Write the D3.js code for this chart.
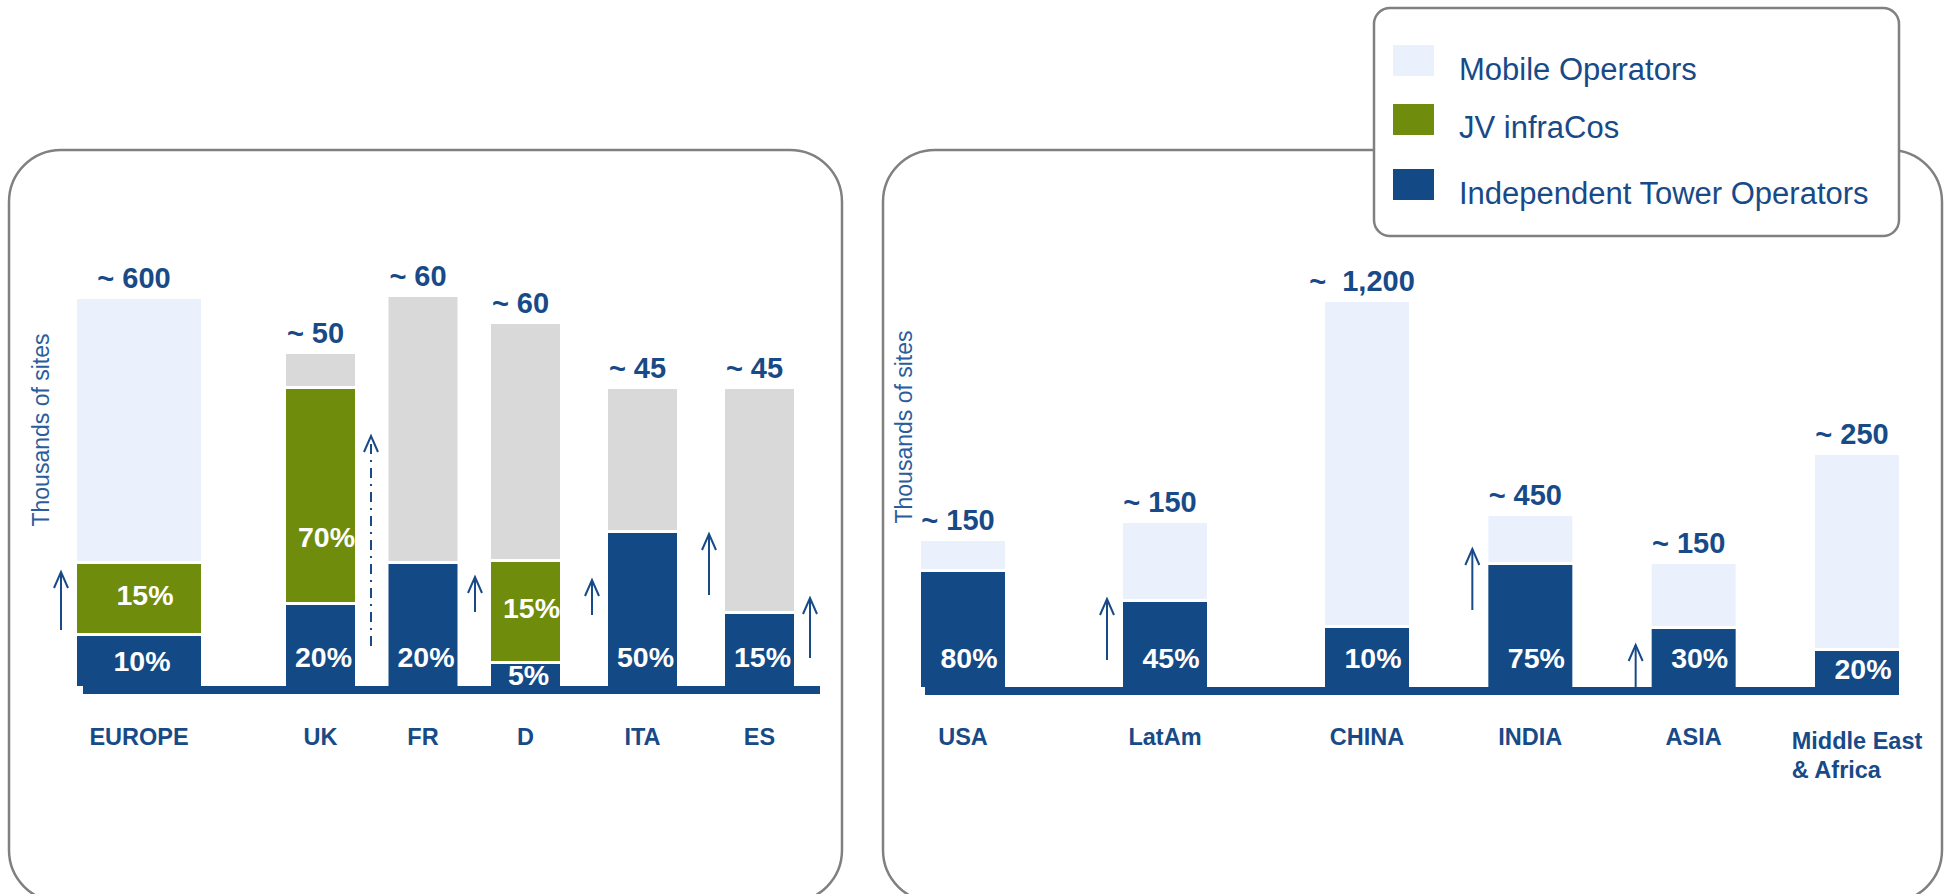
<!DOCTYPE html>
<html><head><meta charset="utf-8">
<script src="https://cdn.jsdelivr.net/npm/d3@7"></script>
<style>
html,body{margin:0;padding:0;background:#fff;}
svg{display:block;}
text{font-family:"Liberation Sans",Arial,sans-serif;white-space:pre;}
</style></head><body>
<svg id="chart" width="1949" height="894"></svg>
<script>
// ---------------- DATA (schematic heights, index 0-100) ----------------
const europeCategories = ["EUROPE", "UK", "FR", "D", "ITA", "ES"];
const europeTotalLabels = ["~ 600", "~ 50", "~ 60", "~ 60", "~ 45", "~ 45"];
const europeItoShareLabels = ["10%", "20%", "20%", "5%", "50%", "15%"];
const europeJvShareLabels = ["15%", "70%", "", "15%", "", ""];
const europeItoHeight = [12.5, 20.25, 30.5, 5.5, 38.25, 18];
const europeJvHeight = [18, 54, 0, 25.5, 0, 0];
const europeMnoHeight = [66.25, 8.75, 66.75, 59.5, 36, 56.25];
const europeIsRegion = [true, false, false, false, false, false];

const worldCategories = ["USA", "LatAm", "CHINA", "INDIA", "ASIA", "Middle East\n& Africa"];
const worldTotalLabels = ["~ 150", "~ 150", "~  1,200", "~ 450", "~ 150", "~ 250"];
const worldItoShareLabels = ["80%", "45%", "10%", "75%", "30%", "20%"];
const worldItoHeight = [28.75, 21.25, 14.75, 30.5, 14.5, 9];
const worldMnoHeight = [7.75, 19.75, 81.5, 12.25, 16.25, 49];

const europeArrowCats = ["EUROPE", "UK", "D", "ITA", "ES", "ES"];
const europeArrowSide = ["left", "right", "left", "left", "left", "right"];
const europeArrowFrom = [14, 10, 18.5, 17.75, 22.75, 7];
const europeArrowTo = [28.5, 62.5, 27.25, 26.5, 38, 22];
const europeArrowDashed = [false, true, false, false, false, false];

const worldArrowCats = ["LatAm", "INDIA", "ASIA"];
const worldArrowFrom = [6.75, 19.25, 0];
const worldArrowTo = [22, 34.5, 10.5];

const legendLabels = ["Mobile Operators", "JV infraCos", "Independent Tower Operators"];
const yAxisTitle = "Thousands of sites";

// ---------------- STYLE ----------------
const C = {ito: "#134a86", jv: "#6f8c0d", mob: "#eaf1fc", gray: "#d9d9d9",
           text: "#174a87", border: "#808080", axis: "#2b5c9c"};
const svg = d3.select("#chart");

// panels
svg.append("rect").attr("x", 9).attr("y", 150).attr("width", 833).attr("height", 752)
  .attr("rx", 52).attr("fill", "none").attr("stroke", C.border).attr("stroke-width", 2.5);
svg.append("rect").attr("x", 883).attr("y", 150).attr("width", 1059).attr("height", 752)
  .attr("rx", 52).attr("fill", "none").attr("stroke", C.border).attr("stroke-width", 2.5);

// legend
const lg = svg.append("g");
lg.append("rect").attr("x", 1374).attr("y", 8).attr("width", 525).attr("height", 228)
  .attr("rx", 16).attr("fill", "#fff").attr("stroke", C.border).attr("stroke-width", 2.5);
const legendColors = [C.mob, C.jv, C.ito];
const legendSwatchY = [45, 104, 169];
const legendTextY = [80, 138, 204];
legendLabels.forEach((t, i) => {
  lg.append("rect").attr("x", 1393).attr("y", legendSwatchY[i]).attr("width", 41).attr("height", 31)
    .attr("fill", legendColors[i]);
  lg.append("text").attr("x", 1459).attr("y", legendTextY[i])
    .attr("font-size", 31).attr("fill", C.text).text(t);
});

// ---------------- PANEL DRAWING ----------------
function drawPanel(o) {
  const g = svg.append("g");
  const y = o.y;
  const base = y(0);
  o.cats.forEach((cat, i) => {
    const x0 = o.x(i), bw = o.bw(i);
    const segs = [
      {h: o.ito[i], c: C.ito},
      {h: o.jv ? o.jv[i] : 0, c: C.jv},
      {h: o.mno[i], c: o.mnoColor(i)}
    ];
    let cum = 0;
    segs.forEach(s => {
      if (s.h <= 0) return;
      const top = y(cum + s.h);
      const bottom = y(cum) - (cum > 0 ? 3 : 0);
      g.append("rect").attr("x", x0).attr("y", top).attr("width", bw)
        .attr("height", bottom - top).attr("fill", s.c);
      cum += s.h;
    });
    const cx = x0 + bw / 2;
    g.append("text").attr("x", cx - 5).attr("y", y(cum) - 11)
      .attr("text-anchor", "middle").attr("font-size", 29).attr("font-weight", "bold")
      .attr("fill", C.text).text(o.totals[i]);
    {
      const top = y(o.ito[i]), bottom = base;
      const mid = (top + bottom) / 2;
      const yy = Math.max(bottom - 19, mid + 10);
      g.append("text").attr("x", cx + o.pctDx).attr("y", yy)
        .attr("text-anchor", "middle").attr("font-size", 28.5).attr("font-weight", "bold")
        .attr("fill", "#fff").text(o.itoLbl[i]);
    }
    if (o.jv && o.jv[i] > 0) {
      const top = y(o.ito[i] + o.jv[i]), bottom = y(o.ito[i]) - 3;
      const h = bottom - top;
      const yy = bottom - Math.min(h / 2 - 6, 55);
      g.append("text").attr("x", cx + o.pctDx + 3).attr("y", yy)
        .attr("text-anchor", "middle").attr("font-size", 28.5).attr("font-weight", "bold")
        .attr("fill", "#fff").text(o.jvLbl[i]);
    }
    const lines = cat.split("\n");
    const t = g.append("text").attr("y", lines.length > 1 ? 749 : 745)
      .attr("font-size", 23.5).attr("font-weight", "bold").attr("fill", C.text);
    if (lines.length === 1) {
      t.attr("x", cx).attr("text-anchor", "middle").text(cat);
    } else {
      const first = t.append("tspan").text(lines[0]);
      const len = first.node().getComputedTextLength();
      const sx = cx - len / 2;
      first.attr("x", sx);
      lines.slice(1).forEach(l => t.append("tspan").attr("x", sx).attr("dy", 29).text(l));
    }
  });
  g.append("rect").attr("x", o.baseX0).attr("y", base).attr("width", o.baseX1 - o.baseX0)
    .attr("height", 8).attr("fill", C.ito);
  o.arrows.forEach(a => {
    const i = o.cats.indexOf(a.cat);
    const xx = a.side === "left" ? o.x(i) - 16 : o.x(i) + o.bw(i) + 16;
    const y1 = y(a.from), y2 = y(a.to);
    g.append("line").attr("x1", xx).attr("x2", xx).attr("y1", y1).attr("y2", y2)
      .attr("stroke", C.text).attr("stroke-width", 2)
      .attr("stroke-dasharray", a.dashed ? "10,6,2,6" : null);
    g.append("polyline").attr("points", `${xx - 7},${y2 + 16} ${xx},${y2} ${xx + 7},${y2 + 16}`)
      .attr("fill", "none").attr("stroke", C.text).attr("stroke-width", 2);
  });
  g.append("text").attr("transform", `translate(${o.titleX},${o.titleY}) rotate(-90)`)
    .attr("text-anchor", "middle").attr("dominant-baseline", "central")
    .attr("font-size", 23).attr("fill", C.axis).text(yAxisTitle);
}

const xLeft = d3.scaleLinear().domain([0, 1, 3, 5]).range([77, 286, 491, 725]);
const yLeft = d3.scaleLinear().domain([0, 100]).range([686, 286]);
drawPanel({
  cats: europeCategories, x: xLeft, bw: i => europeIsRegion[i] ? 124 : 69, y: yLeft,
  ito: europeItoHeight, jv: europeJvHeight, mno: europeMnoHeight,
  mnoColor: i => europeIsRegion[i] ? C.mob : C.gray,
  totals: europeTotalLabels, itoLbl: europeItoShareLabels, jvLbl: europeJvShareLabels,
  pctDx: 3, baseX0: 83, baseX1: 820,
  arrows: europeArrowCats.map((c, k) => ({cat: c, side: europeArrowSide[k],
    from: europeArrowFrom[k], to: europeArrowTo[k], dashed: europeArrowDashed[k]})),
  titleX: 41, titleY: 430
});

const xRight = d3.scaleLinear().domain([0, 2, 5]).range([921, 1325, 1815]);
const yRight = d3.scaleLinear().domain([0, 100]).range([687, 287]);
drawPanel({
  cats: worldCategories, x: xRight, bw: () => 84, y: yRight,
  ito: worldItoHeight, jv: null, mno: worldMnoHeight,
  mnoColor: () => C.mob,
  totals: worldTotalLabels, itoLbl: worldItoShareLabels, jvLbl: null,
  pctDx: 6, baseX0: 925, baseX1: 1899,
  arrows: worldArrowCats.map((c, k) => ({cat: c, side: "left",
    from: worldArrowFrom[k], to: worldArrowTo[k], dashed: false})),
  titleX: 904, titleY: 427
});
</script>
</body></html>
